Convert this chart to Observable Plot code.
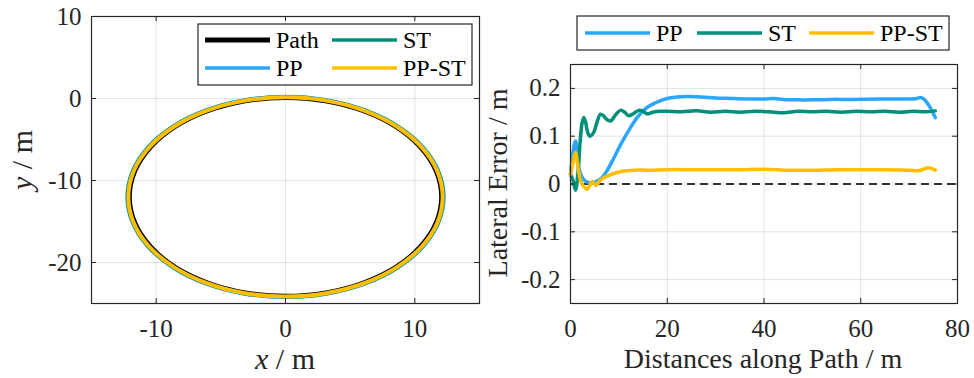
<!DOCTYPE html>
<html><head><meta charset="utf-8">
<script src="https://cdn.jsdelivr.net/npm/d3@7"></script>
<script src="https://cdn.jsdelivr.net/npm/@observablehq/plot@0.6"></script>
<style>
body{margin:0;background:#fff;}
#root{position:relative;width:974px;height:378px;overflow:hidden;font-family:'Liberation Serif','Times New Roman',serif;background:#fff;}
#root > svg{position:absolute;top:0;}
#root svg, #root text, #root tspan{font-family:'Liberation Serif','Times New Roman',serif !important;}
#overlay{position:absolute;left:0;top:0;pointer-events:none;}
</style></head><body><div id="root"></div>
<script>
// ---------- Left panel: trajectories (x / m, y / m) ----------
const pathX = [0, 3.11, 6, 8.49, 10.39, 11.59, 12, 11.59, 10.39, 8.49, 6, 3.11, 0, -3.11, -6, -8.49, -10.39, -11.59, -12, -11.59, -10.39, -8.49, -6, -3.11];
const pathY = [0, -0.41, -1.61, -3.51, -6, -8.89, -12, -15.11, -18, -20.49, -22.39, -23.59, -24, -23.59, -22.39, -20.49, -18, -15.11, -12, -8.89, -6, -3.51, -1.61, -0.41];
const ppX = [0, 3.17, 6.13, 8.66, 10.61, 11.83, 12.25, 11.83, 10.61, 8.66, 6.13, 3.17, 0, -3.17, -6.13, -8.66, -10.61, -11.83, -12.25, -11.83, -10.61, -8.66, -6.13, -3.17];
const ppY = [0.25, -0.17, -1.39, -3.34, -5.87, -8.83, -12, -15.17, -18.13, -20.66, -22.61, -23.83, -24.25, -23.83, -22.61, -20.66, -18.13, -15.17, -12, -8.83, -5.87, -3.34, -1.39, -0.17];
const stX = [0, 3.16, 6.11, 8.64, 10.58, 11.8, 12.22, 11.8, 10.58, 8.64, 6.11, 3.16, 0, -3.16, -6.11, -8.64, -10.58, -11.8, -12.22, -11.8, -10.58, -8.64, -6.11, -3.16];
const stY = [0.22, -0.2, -1.42, -3.36, -5.89, -8.84, -12, -15.16, -18.11, -20.64, -22.58, -23.8, -24.22, -23.8, -22.58, -20.64, -18.11, -15.16, -12, -8.84, -5.89, -3.36, -1.42, -0.2];
const ppstX = [0, 3.14, 6.08, 8.59, 10.52, 11.74, 12.15, 11.74, 10.52, 8.59, 6.08, 3.14, 0, -3.14, -6.08, -8.59, -10.52, -11.74, -12.15, -11.74, -10.52, -8.59, -6.08, -3.14];
const ppstY = [0.15, -0.26, -1.48, -3.41, -5.92, -8.86, -12, -15.14, -18.08, -20.59, -22.52, -23.74, -24.15, -23.74, -22.52, -20.59, -18.08, -15.14, -12, -8.86, -5.92, -3.41, -1.48, -0.26];
const xTicksL = [-10, 0, 10];
const yTicksL = [-20, -10, 0, 10];

// ---------- Right panel: lateral error vs distance ----------
const ppDist = [0, 0.5, 1.03, 1.7, 2.5, 3.1, 4.0, 4.8, 5.5, 6.5, 7.5, 9.0, 10.5, 12.4, 14, 15.8, 18, 20, 22, 24, 27, 30, 33, 36.5, 40, 42, 44, 46.8, 50, 53.7, 58, 64, 68, 71.6, 72.3, 73, 74, 75.4];
const ppErr  = [0.02, 0.065, 0.09, 0.035, 0.012, 0.006, 0.002, 0.003, 0.006, 0.013, 0.027, 0.055, 0.085, 0.118, 0.142, 0.160, 0.172, 0.179, 0.182, 0.183, 0.182, 0.180, 0.179, 0.178, 0.178, 0.179, 0.177, 0.176, 0.176, 0.177, 0.177, 0.178, 0.178, 0.179, 0.181, 0.178, 0.166, 0.139];
const stDist = [0, 0.5, 1.03, 1.6, 2.0, 2.4, 2.75, 3.1, 3.5, 4.0, 4.8, 5.5, 6.2, 6.8, 7.5, 8.3, 9.2, 10.3, 11.2, 12, 13, 14.1, 15, 15.8, 17, 18.5, 20, 23, 26, 29, 32, 35, 38, 41, 44, 47, 50, 53, 56, 59, 62, 65, 68, 71, 73, 75.4];
const stErr  = [0.02, 0.008, -0.013, 0.03, 0.09, 0.128, 0.139, 0.13, 0.11, 0.10, 0.108, 0.13, 0.146, 0.143, 0.135, 0.132, 0.143, 0.154, 0.15, 0.143, 0.147, 0.154, 0.152, 0.147, 0.15, 0.152, 0.152, 0.151, 0.153, 0.150, 0.152, 0.150, 0.152, 0.151, 0.149, 0.152, 0.151, 0.152, 0.150, 0.152, 0.151, 0.152, 0.150, 0.152, 0.151, 0.153];
const ppstDist = [0, 0.5, 1.03, 1.5, 2.1, 2.8, 3.4, 4.0, 4.5, 5.2, 6, 6.9, 8, 9.6, 11, 13.1, 16, 20, 25, 30, 35, 40, 45, 50, 55, 60, 65, 70, 72, 73, 74.1, 75.4];
const ppstErr  = [0.02, 0.045, 0.066, 0.04, 0.006, -0.006, -0.011, -0.003, 0.006, -0.003, 0.006, 0.013, 0.018, 0.024, 0.027, 0.029, 0.029, 0.03, 0.03, 0.03, 0.03, 0.031, 0.029, 0.029, 0.03, 0.03, 0.03, 0.029, 0.028, 0.031, 0.034, 0.029];
const xTicksR = [0, 20, 40, 60, 80];
const yTicksR = [-0.2, -0.1, 0, 0.1, 0.2];

// ---------- styling ----------
const C = {Path: "#000000", PP: "#2ba6fb", ST: "#00907a", "PP-ST": "#ffbf00"};
const AX = "#262626";
const FONT = "'Liberation Serif', 'Times New Roman', serif";
const W = 487, H = 378;

function rows(xs, ys, name) { return xs.map((x, i) => ({x, y: ys[i], series: name})); }

function boxTicks(xTicks, yTicks, fw, fh) {
  const t = 5;
  return [
    Plot.ruleX(xTicks, {stroke: AX, insetTop: fh - t}),
    Plot.ruleX(xTicks, {stroke: AX, insetBottom: fh - t}),
    Plot.ruleY(yTicks, {stroke: AX, insetRight: fw - t}),
    Plot.ruleY(yTicks, {stroke: AX, insetLeft: fw - t})
  ];
}
const style = {fontFamily: FONT, fontSize: "25px", color: AX, background: "transparent", overflow: "visible"};

// Left plot
const mL = {marginLeft: 91, marginRight: 8, marginTop: 16, marginBottom: 75};
const fwL = W - mL.marginLeft - mL.marginRight, fhL = H - mL.marginTop - mL.marginBottom;
const left = Plot.plot({
  width: W, height: H, ...mL, style,
  x: {domain: [-15, 15]},
  y: {domain: [-25, 10]},
  marks: [
    Plot.gridX(xTicksL, {stroke: AX, strokeOpacity: 0.13}),
    Plot.gridY(yTicksL, {stroke: AX, strokeOpacity: 0.13}),
    Plot.line(rows(pathX, pathY, "Path"), {x: "x", y: "y", stroke: C.Path, strokeWidth: 3, curve: "catmull-rom-closed"}),
    Plot.line(rows(ppX, ppY, "PP"), {x: "x", y: "y", stroke: C.PP, strokeWidth: 3.5, curve: "catmull-rom-closed"}),
    Plot.line(rows(stX, stY, "ST"), {x: "x", y: "y", stroke: C.ST, strokeWidth: 3.5, curve: "catmull-rom-closed"}),
    Plot.line(rows(ppstX, ppstY, "PP-ST"), {x: "x", y: "y", stroke: C["PP-ST"], strokeWidth: 4, curve: "catmull-rom-closed"}),
    Plot.frame({stroke: AX, strokeWidth: 1.2}),
    ...boxTicks(xTicksL, yTicksL, fwL, fhL),
    Plot.axisX(xTicksL, {anchor: "bottom", tickSize: 0, tickPadding: 16, tickFormat: d => String(d), label: null, fontFamily: FONT}),
    Plot.axisY(yTicksL, {anchor: "left", tickSize: 0, tickPadding: 10, tickFormat: d => String(d), label: null, fontFamily: FONT})
  ]
});
left.style.left = "0px";

// Right plot
const mR = {marginLeft: 83, marginRight: 17, marginTop: 64, marginBottom: 75};
const fwR = W - mR.marginLeft - mR.marginRight, fhR = H - mR.marginTop - mR.marginBottom;
const right = Plot.plot({
  width: W, height: H, ...mR, style,
  x: {domain: [0, 80]},
  y: {domain: [-0.25, 0.25]},
  marks: [
    Plot.gridX(xTicksR, {stroke: AX, strokeOpacity: 0.13}),
    Plot.gridY(yTicksR, {stroke: AX, strokeOpacity: 0.13}),
    Plot.ruleY([0], {stroke: "#333333", strokeWidth: 2, strokeDasharray: "8,5"}),
    Plot.line(rows(ppDist, ppErr, "PP"), {x: "x", y: "y", stroke: C.PP, strokeWidth: 3.5, curve: "catmull-rom"}),
    Plot.line(rows(stDist, stErr, "ST"), {x: "x", y: "y", stroke: C.ST, strokeWidth: 3.5, curve: "catmull-rom"}),
    Plot.line(rows(ppstDist, ppstErr, "PP-ST"), {x: "x", y: "y", stroke: C["PP-ST"], strokeWidth: 3.5, curve: "catmull-rom"}),
    Plot.frame({stroke: AX, strokeWidth: 1.2}),
    ...boxTicks(xTicksR, yTicksR, fwR, fhR),
    Plot.axisX(xTicksR, {anchor: "bottom", tickSize: 0, tickPadding: 16, tickFormat: d => String(d), label: null, fontFamily: FONT}),
    Plot.axisY(yTicksR, {anchor: "left", tickSize: 0, tickPadding: 10, tickFormat: d => String(d), label: null, fontFamily: FONT})
  ]
});
right.style.left = W + "px";

const root = document.getElementById("root");
root.appendChild(left);
root.appendChild(right);

// ---------- Overlay: axis labels and legends ----------
const ns = "http://www.w3.org/2000/svg";
const ov = document.createElementNS(ns, "svg");
ov.setAttribute("id", "overlay");
ov.setAttribute("width", 974);
ov.setAttribute("height", 378);
ov.style.fontFamily = FONT;
root.appendChild(ov);

function el(tag, attrs, parent = ov) {
  const e = document.createElementNS(ns, tag);
  for (const k in attrs) e.setAttribute(k, attrs[k]);
  parent.appendChild(e);
  return e;
}
function label(parts, attrs) {
  const t = el("text", {fill: AX, "text-anchor": "middle", ...attrs});
  t.style.whiteSpace = "pre";
  for (const [txt, italic] of parts) {
    const s = el("tspan", italic ? {"font-style": "italic"} : {}, t);
    s.textContent = txt;
  }
  return t;
}
label([["x", true], [" / m", false]], {x: 285, y: 369, "font-size": 30});
label([["y", true], [" / m", false]], {transform: "translate(32,160) rotate(-90)", "font-size": 30});
label([["Distances along Path / m", false]], {x: 763, y: 368, "font-size": 28});
label([["Lateral Error / m", false]], {transform: "translate(507,183) rotate(-90)", "font-size": 28});

// Left legend
el("rect", {x: 198, y: 24, width: 274, height: 61, fill: "#fff", stroke: AX, "stroke-width": 1.2});
const legL = [
  {name: "Path", x: 205, y: 40, w: 5},
  {name: "ST", x: 332, y: 40, w: 3.5},
  {name: "PP", x: 205, y: 68, w: 3.5},
  {name: "PP-ST", x: 332, y: 68, w: 3.5}
];
for (const d of legL) {
  el("line", {x1: d.x, x2: d.x + 65, y1: d.y, y2: d.y, stroke: C[d.name], "stroke-width": d.w});
  const t = el("text", {x: d.x + 71, y: d.y + 8, "font-size": 24, fill: "#000"});
  t.textContent = d.name;
}
// Right legend
el("rect", {x: 577, y: 16, width: 372, height: 34, fill: "#fff", stroke: AX, "stroke-width": 1.2});
const legR = [
  {name: "PP", x: 585},
  {name: "ST", x: 697},
  {name: "PP-ST", x: 809}
];
for (const d of legR) {
  el("line", {x1: d.x, x2: d.x + 65, y1: 33, y2: 33, stroke: C[d.name], "stroke-width": 3.5});
  const t = el("text", {x: d.x + 71, y: 41, "font-size": 24, fill: "#000"});
  t.textContent = d.name;
}
</script></body></html>
